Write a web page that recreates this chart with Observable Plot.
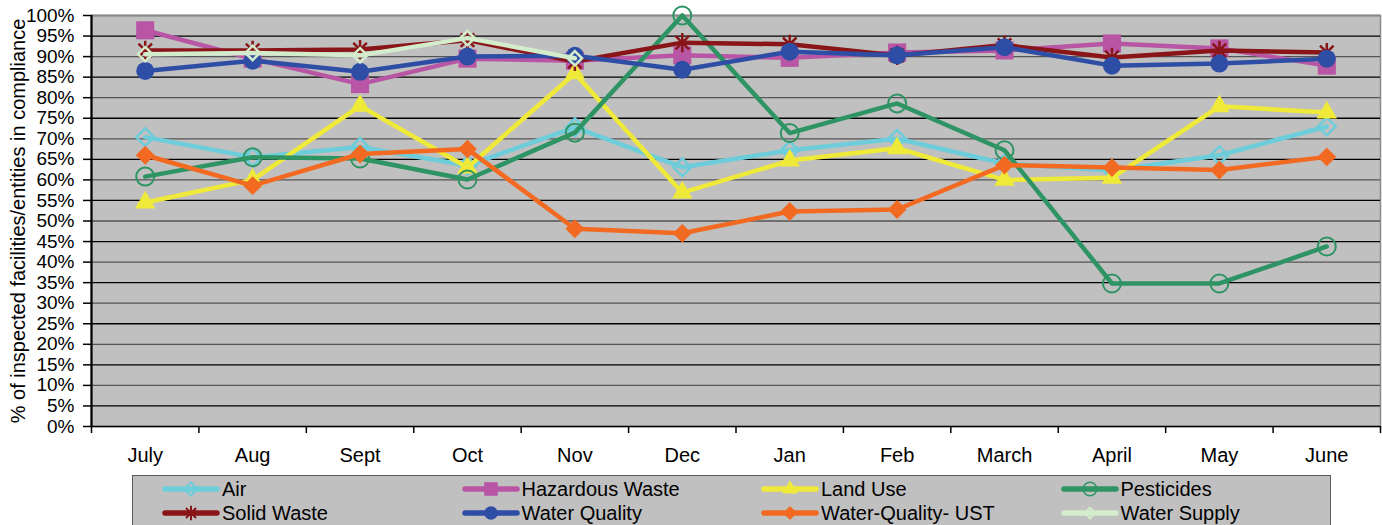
<!DOCTYPE html>
<html><head><meta charset="utf-8">
<script src="https://cdn.jsdelivr.net/npm/d3@7"></script>
<script src="https://cdn.jsdelivr.net/npm/@observablehq/plot@0.6"></script>
<style>
body{margin:0;background:#fff;font-family:"Liberation Sans",Arial,sans-serif;}
#wrap{position:relative;width:1382px;height:525px;overflow:hidden;background:#fff;}
#chart{position:absolute;left:0;top:0;}
.title{position:absolute;top:-16px;font:bold 17px "Liberation Sans",Arial,sans-serif;line-height:16px;white-space:nowrap;color:#000;}
#legend{position:absolute;left:132px;top:475px;width:1199px;height:60px;background:#c0c0c0;border:1.5px solid #5a5a5a;box-sizing:border-box;}
.item{position:absolute;height:24px;display:flex;align-items:center;font-size:20px;color:#000;white-space:nowrap;}
.item svg{margin-right:2px;}
</style></head><body>
<div id="wrap">
  <div id="chart"></div>
  <div class="title" style="right:892px;text-align:right;">Environmental Results&nbsp;</div>
  <div class="title" style="left:490px;">by Component</div>
  <div id="legend"></div>
</div>
<script>
const months = ["July","Aug","Sept","Oct","Nov","Dec","Jan","Feb","March","April","May","June"];
const seriesNames = ["Air","Hazardous Waste","Land Use","Pesticides","Solid Waste","Water Quality","Water-Quality- UST","Water Supply"];
const air          = [70.4, 65.5, 68.0, 63.5, 72.8, 63.1, 67.2, 70.0, 64.0, 62.3, 66.0, 73.0];
const hazardous    = [96.4, 89.5, 83.3, 89.5, 89.0, 90.3, 89.7, 91.0, 91.5, 93.2, 92.0, 87.8];
const landUse      = [54.5, 60.0, 78.0, 63.0, 85.9, 56.9, 64.7, 67.7, 60.0, 60.5, 77.9, 76.4];
const pesticides   = [60.8, 65.5, 65.2, 60.1, 71.5, 100.0, 71.4, 78.6, 67.2, 34.8, 34.8, 43.8];
const solidWaste   = [91.5, 91.5, 91.7, 94.0, 88.8, 93.4, 93.0, 90.3, 92.8, 89.8, 91.5, 91.0];
const waterQuality = [86.5, 89.0, 86.3, 90.0, 90.2, 86.8, 91.2, 90.3, 92.3, 87.8, 88.3, 89.5];
const waterUST     = [66.0, 58.6, 66.3, 67.5, 48.1, 47.0, 52.3, 52.8, 63.6, 63.0, 62.4, 65.6];
const waterSupply  = [90.6, 90.9, 90.3, 94.5, 89.6, null, null, null, null, null, null, null];
const yTicks = d3.range(0, 101, 5);
const yLabel = "% of inspected facilities/entities in compliance";

const seriesValues = [air, hazardous, landUse, pesticides, solidWaste, waterQuality, waterUST, waterSupply];
const colors = ["#6dcdda","#b955a5","#efe93a","#2e9464","#8a1518","#2e4ea6","#f26a21","#d3eccb"];

const star = {draw(ctx, size){const r=Math.sqrt(size)*0.6, d=r*Math.SQRT1_2;
  ctx.moveTo(0,-r);ctx.lineTo(0,r);ctx.moveTo(-d,-d);ctx.lineTo(d,d);ctx.moveTo(-d,d);ctx.lineTo(d,-d);}};
const markerStyles = [
  {symbol:"diamond2", fill:"none", stroke:true, strokeWidth:2.5, r:8},
  {symbol:"square", fill:true, r:10.2},
  {symbol:"triangle", fill:true, r:7.6},
  {symbol:"circle", fill:"none", stroke:true, strokeWidth:2, r:9},
  {symbol:star, fill:"none", stroke:true, strokeWidth:2.5, r:9},
  {symbol:"circle", fill:true, r:9},
  {symbol:"diamond2", fill:true, r:8.5},
  {symbol:"diamond2", fill:"none", stroke:true, strokeWidth:2.5, r:6.5}
];

const marks = [
  Plot.frame({fill:"#c0c0c0", stroke:"#8a8a8a", strokeWidth:1.5}),
  Plot.ruleY(yTicks.filter(v => v > 0 && v < 100), {y: d => d/100, stroke: d => d % 10 === 0 ? "#555" : "#000", strokeWidth: 1.3}),
  Plot.ruleY([1], {stroke:"#8a8a8a", strokeWidth:2}),
  Plot.ruleY([0], {stroke:"#000", strokeWidth:1.5}),
  Plot.ruleX([0], {stroke:"#000", strokeWidth:2.2}),
  Plot.axisY({ticks: yTicks.map(v => v/100), tickFormat: d3.format(".0%"), tickSize: 8, tickPadding: 9, fontSize: 19, stroke:"#000", strokeWidth:1.5, label: null}),
  Plot.text([yLabel], {frameAnchor: "left", rotate: -90, dx: -73, fontSize: 20, fill: "#000", textAnchor: "middle"}),
  Plot.axisX({ticks: d3.range(0, 13), tickFormat: () => "", tickSize: 7, stroke:"#000", strokeWidth:1.5, label: null}),
  Plot.axisX({ticks: months.map((m, i) => i + 0.5), tickFormat: v => months[v - 0.5], tickSize: 0, tickPadding: 21, fontSize: 20, label: null})
];

seriesNames.forEach((name, k) => {
  const rows = months.map((m, i) => ({series: name, month: m, x: i + 0.5, y: seriesValues[k][i] == null ? NaN : seriesValues[k][i] / 100}));
  const c = colors[k];
  const ms = markerStyles[k];
  marks.push(Plot.line(rows, {x: "x", y: "y", stroke: c, strokeWidth: 4.5, strokeLinejoin: "round", strokeLinecap: "round"}));
  marks.push(Plot.dot(rows.filter(d => !isNaN(d.y)), {x: "x", y: "y", symbol: ms.symbol, r: ms.r,
    fill: ms.fill === true ? c : "none", stroke: ms.stroke ? c : "none", strokeWidth: ms.strokeWidth || 0}));
});

const chart = Plot.plot({
  width: 1382, height: 470,
  marginLeft: 91, marginRight: 2, marginTop: 15, marginBottom: 44,
  x: {type: "linear", domain: [0, 12], axis: null},
  y: {type: "linear", domain: [0, 1], axis: null},
  style: {fontFamily: "'Liberation Sans', Arial, sans-serif", fontSize: "19px", background: "transparent", color: "#000"},
  marks
});
document.getElementById("chart").appendChild(chart);

// Legend
const legend = d3.select("#legend");
seriesNames.forEach((name, k) => {
  const col = k % 4, row = Math.floor(k / 4);
  const item = legend.append("div").attr("class", "item")
    .style("left", (29 + col * 299.5) + "px").style("top", (1 + row * 24) + "px");
  const svg = item.append("svg").attr("width", 58).attr("height", 22);
  svg.append("line").attr("x1", 3).attr("x2", 55).attr("y1", 11).attr("y2", 11)
    .attr("stroke", colors[k]).attr("stroke-width", 5.5).attr("stroke-linecap", "round");
  const ms = markerStyles[k];
  const symType = typeof ms.symbol === "string" ? {diamond2: d3.symbolDiamond2, square: d3.symbolSquare, triangle: d3.symbolTriangle, circle: d3.symbolCircle}[ms.symbol] : ms.symbol;
  const rr = ms.r * 0.75;
  svg.append("path").attr("transform", "translate(29,11)")
    .attr("d", d3.symbol(symType, Math.PI * rr * rr)())
    .attr("fill", ms.fill === true ? colors[k] : "none")
    .attr("stroke", ms.stroke ? colors[k] : "none")
    .attr("stroke-width", (ms.strokeWidth || 0) * 0.8);
  item.append("span").text(name);
});
</script>
</body></html>
